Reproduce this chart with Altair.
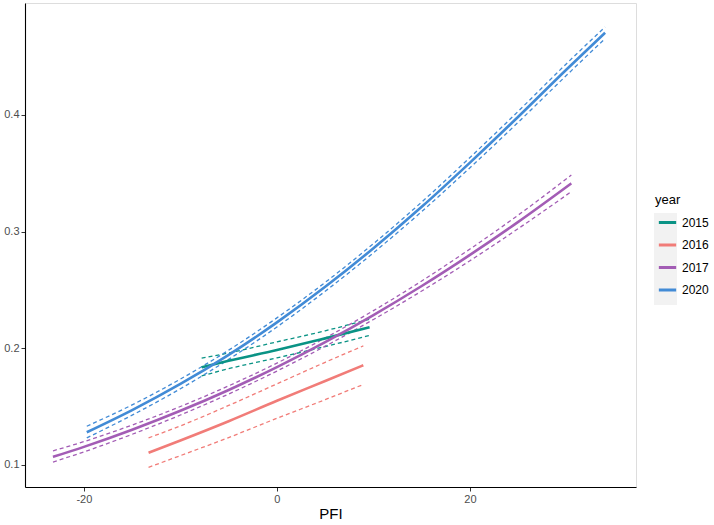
import altair as alt
import pandas as pd

years = ["2015", "2016", "2017", "2020"]
colors = ["#0A9385", "#F17C78", "#A35DB5", "#428BD6"]

# 2015
pfi_2015 = [-7.8, -5, 0, 5, 9.6]
fit_2015 = [0.1837, 0.1893, 0.1985, 0.2085, 0.2180]
upr_2015 = [0.1915, 0.1960, 0.2055, 0.2150, 0.2250]
lwr_2015 = [0.1763, 0.1825, 0.1918, 0.2015, 0.2110]

# 2016
pfi_2016 = [-13.3, -10, -5, 0, 5, 8.95]
fit_2016 = [0.1105, 0.1210, 0.1375, 0.1550, 0.1720, 0.1855]
upr_2016 = [0.1232, 0.1335, 0.1510, 0.1695, 0.1880, 0.2020]
lwr_2016 = [0.0980, 0.1080, 0.1235, 0.1400, 0.1560, 0.1690]

# 2017
pfi_2017 = [-23.2, -20, -15, -10, -5, 0, 5, 10, 15, 20, 25, 30.5]
fit_2017 = [0.1069, 0.1155, 0.1302, 0.1464, 0.1643, 0.1839, 0.2053, 0.2285, 0.2534, 0.2801, 0.3084, 0.3414]
upr_2017 = [0.1121, 0.1200, 0.1342, 0.1501, 0.1678, 0.1873, 0.2088, 0.2323, 0.2577, 0.2851, 0.3142, 0.3485]
lwr_2017 = [0.1025, 0.1112, 0.1263, 0.1428, 0.1608, 0.1805, 0.2018, 0.2247, 0.2491, 0.2751, 0.3026, 0.3343]

# 2020
pfi_2020 = [-19.7, -15, -10, -5, 0, 5, 10, 15, 20, 25, 30, 34.0]
fit_2020 = [0.1280, 0.1470, 0.1694, 0.1944, 0.2222, 0.2527, 0.2858, 0.3213, 0.3592, 0.3985, 0.4390, 0.4705]
upr_2020 = [0.1332, 0.1515, 0.1736, 0.1984, 0.2261, 0.2565, 0.2897, 0.3254, 0.3636, 0.4032, 0.4440, 0.4755]
lwr_2020 = [0.1232, 0.1427, 0.1653, 0.1905, 0.2183, 0.2489, 0.2819, 0.3172, 0.3548, 0.3938, 0.4340, 0.4655]

x_ticks = [-20, 0, 20]
y_ticks = [0.1, 0.2, 0.3, 0.4]

series = [
    ("2015", pfi_2015, fit_2015, upr_2015, lwr_2015),
    ("2016", pfi_2016, fit_2016, upr_2016, lwr_2016),
    ("2017", pfi_2017, fit_2017, upr_2017, lwr_2017),
    ("2020", pfi_2020, fit_2020, upr_2020, lwr_2020),
]
rows = []
for yr, xs, f, u, l in series:
    for a, b, c, d in zip(xs, f, u, l):
        rows.append({"year": yr, "key": "k" + yr, "PFI": a, "fit": b, "upr": c, "lwr": d})
df = pd.DataFrame(rows)

xscale = alt.Scale(domain=[-26.1, 37.2], nice=False, zero=False)
yscale = alt.Scale(domain=[0.0811, 0.496], nice=False, zero=False)
cscale = alt.Scale(domain=years, range=colors)

xaxis = alt.Axis(values=x_ticks, title="PFI", grid=False, titlePadding=2,
                 labelExpr="datum.value < 0 ? '-' + abs(datum.value) : '' + datum.value")
xenc = alt.X("PFI:Q", scale=xscale, axis=xaxis)
base = alt.Chart(df)

def yenc(field):
    return alt.Y(f"{field}:Q", scale=yscale,
                 axis=alt.Axis(values=y_ticks, format=".1f", title=None, grid=False))

dash_layers = []
for fld in ["upr", "lwr"]:
    dash_layers.append(
        base.mark_line(strokeWidth=1.3, strokeDash=[4, 3], interpolate="monotone").encode(
            x=xenc, y=yenc(fld),
            color=alt.Color("year:N", scale=cscale, legend=None),
            detail="year:N",
        )
    )

solid = base.mark_line(strokeWidth=2.6, interpolate="monotone").encode(
    x=xenc, y=yenc("fit"),
    color=alt.Color("year:N", scale=cscale,
                    legend=alt.Legend(orient="none", legendX=630, legendY=191,
                                      title="year", titleFontSize=13, titleFontWeight="normal",
                                      titleColor="#000000", labelFontSize=12, labelColor="#000000",
                                      symbolType="stroke", symbolStrokeWidth=3, symbolSize=300,
                                      symbolOffset=2, rowPadding=5.5, zindex=2)),
)

# legend key backgrounds (marks themselves sit outside the clipped plot area)
keys = base.transform_calculate(off="datum.PFI + 1000").mark_point(
    color="#F2F2F2", fill="#F2F2F2", filled=True, opacity=1, clip=True
).encode(
    x=alt.X("off:Q", scale=xscale, axis=xaxis), y=yenc("fit"),
    shape=alt.Shape("key:N",
                    scale=alt.Scale(domain=["k" + y for y in years], range=["square"] * 4),
                    legend=alt.Legend(orient="none", legendX=629, legendY=210,
                                      title=None, labelExpr="''", labelFontSize=12,
                                      symbolType="square", symbolSize=529,
                                      symbolFillColor="#F2F2F2", symbolStrokeWidth=0,
                                      symbolOpacity=1, rowPadding=0, zindex=1)),
)

chart = alt.layer(keys, *dash_layers, solid).resolve_legend(shape="independent", color="independent").properties(
    width=611, height=484,
    autosize=alt.AutoSizeParams(type="none"),
    padding={"left": 25, "top": 3, "right": 78, "bottom": 38},
).configure_view(stroke=None).configure(
    font="Liberation Sans"
).configure_axis(
    domainColor="#000000", domainWidth=1.1, tickColor="#333333", tickSize=4,
    labelColor="#4D4D4D", labelFontSize=11, labelPadding=2,
    titleColor="#000000", titleFontSize=15, titleFontWeight="normal",
)

chart.save("out.html", embed_options={"renderer": "svg", "actions": False})
